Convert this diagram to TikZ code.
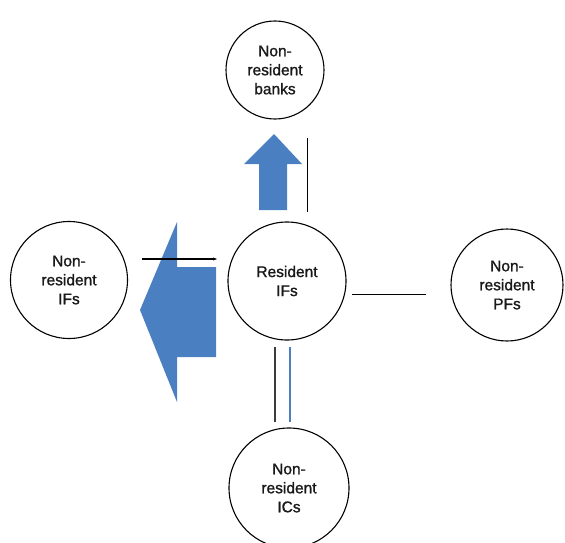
\documentclass[tikz,border=0pt]{standalone}
\usepackage{fontspec}
\setmainfont{Liberation Sans}
\newfontfamily\labelfont{Liberation Sans}[FakeBold=1.2]
\usetikzlibrary{arrows.meta}
\definecolor{flowblue}{RGB}{74,127,193}
\begin{document}
\begin{tikzpicture}[x=1pt,y=-1pt,
  entity/.style={circle,draw=black,line width=1.1pt,align=center,inner sep=0pt,
    font=\labelfont\fontsize{15.5}{19}\selectfont\color[RGB]{25,25,25}},
  thinline/.style={draw=black,line width=1pt},
  bluearrow/.style={fill=flowblue,draw=none}]
\useasboundingbox (0,0) rectangle (565,543);
\node[entity,minimum size=98pt] (banks) at (275,70) {Non-\\resident\\banks};
\node[entity,minimum size=118pt] (rif) at (287,281) {Resident\\IFs};
\node[entity,minimum size=117pt] (nif) at (69,280) {Non-\\resident\\IFs};
\node[entity,minimum size=112pt] (npf) at (507,285) {Non-\\resident\\PFs};
\node[entity,minimum size=120pt] (nic) at (289,488) {Non-\\resident\\ICs};
% up arrow towards banks
\fill[bluearrow] (274,134) -- (302,164) -- (287,164) -- (287,210) -- (259,210) -- (259,164) -- (244,164) -- cycle;
\coordinate (bt) at (307,138);
\coordinate (bb) at (307,212);
\draw[thinline] (bb) -- (bt);
% big left arrow
\fill[bluearrow] (140,310) -- (177,222) -- (177,267) -- (216,267) -- (216,357) -- (177,357) -- (177,402) -- cycle;
\coordinate (la) at (142,259);
\coordinate (lb) at (217,259);
\draw[thinline,line width=1.4pt,-{Stealth[length=4pt,width=3pt]}] (la) -- (lb);
% right line
\coordinate (ra) at (352,294);
\coordinate (rb) at (426,294);
\draw[thinline] (ra) -- (rb);
% bottom lines
\coordinate (ka) at (275,347);
\coordinate (kb) at (275,422);
\draw[thinline,draw={rgb,255:red,60;green,60;blue,60},line width=1.2pt] (ka) -- (kb);
\coordinate (ua) at (290,347);
\coordinate (ub) at (290,422);
\draw[draw=flowblue,line width=1.6pt] (ua) -- (ub);
\end{tikzpicture}
\end{document}
